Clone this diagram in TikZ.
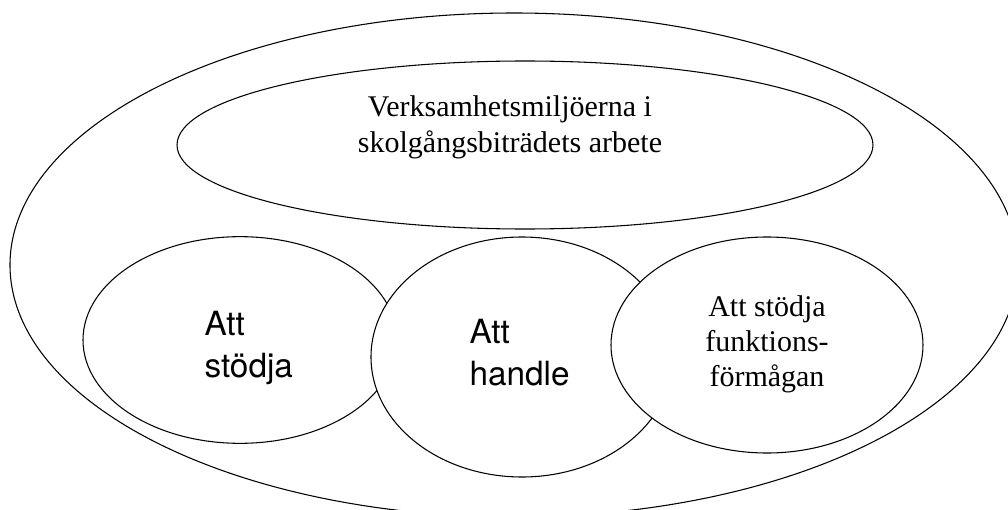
\documentclass[tikz,border=0pt]{standalone}
\usepackage{fontspec}
\setmainfont{Liberation Serif}
\newfontfamily\rolefont{TeX Gyre Heros}
\usetikzlibrary{shapes.geometric}

\begin{document}
\begin{tikzpicture}[x=0.75pt, y=-0.75pt, line width=0.8pt,
		oval/.style={ellipse, draw=black, fill=white, inner sep=0pt},
		rolelabel/.style={inner sep=0pt, align=left, font=\rolefont\fontsize{25}{31.5}\selectfont}]
			\useasboundingbox (0,0) rectangle (1008,510);
			\clip (0,0) rectangle (1008,510);

			% outer frame and the environment
			\node[oval, minimum width=756pt, minimum height=378pt] (frame) at (514,265) {};
			\node[oval, minimum width=522pt, minimum height=126pt] (env) at (525,145) {};

			% the three tasks, later ones on top
			\node[oval, minimum width=235.5pt, minimum height=155pt] (stod) at (240,340) {};
			\node[oval, minimum width=226.5pt, minimum height=180pt] (handl) at (522,357) {};
			\node[oval, minimum width=234pt, minimum height=162pt] (funk) at (767,345) {};

			\node[inner sep=0pt, align=center, font=\fontsize{22.5}{27}\selectfont] (envtxt) at (510,127) {Verksamhetsmiljöerna i\\skolgångsbiträdets arbete};
			\node[rolelabel, anchor=west] (stodtxt) at (204,347.5) {Att\\stödja};
			\node[rolelabel, anchor=west] (handltxt) at (469,353) {Att\\handle};
			\node[inner sep=0pt, align=center, font=\fontsize{22.5}{26.25}\selectfont] (funktxt) at (767,344) {Att stödja\\funktions-\\förmågan};
		\end{tikzpicture}
\end{document}
